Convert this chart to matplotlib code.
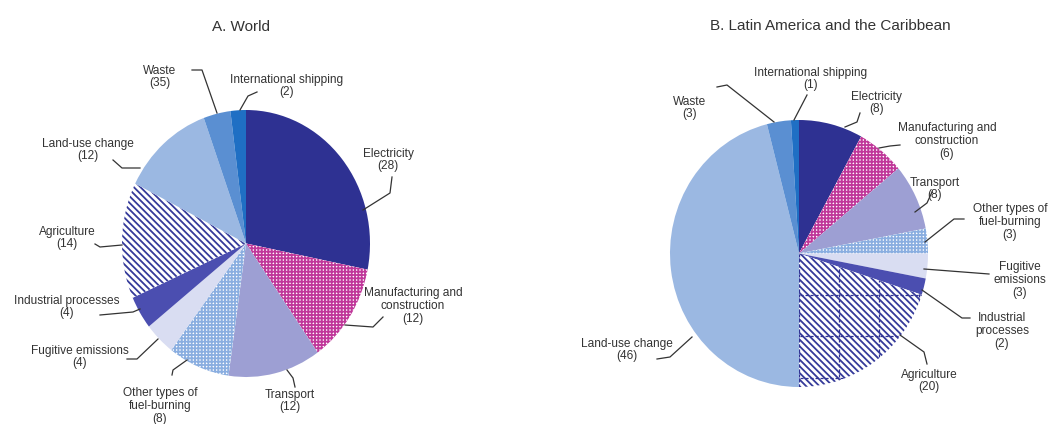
import numpy as np
import matplotlib.pyplot as plt

plt.rcParams['font.family'] = ['Liberation Sans', 'DejaVu Sans']
plt.rcParams['hatch.linewidth'] = 1.3

# sectors, listed clockwise from the top of each pie
sectors = ['Electricity', 'Manufacturing and\nconstruction', 'Transport',
           'Other types of\nfuel-burning', 'Fugitive emissions',
           'Industrial processes', 'Agriculture', 'Land-use change',
           'Waste', 'International shipping']

world_shares = [28, 12, 12, 8, 4, 4, 14, 12, 3.5, 2]
world_labels = ['28', '12', '12', '8', '4', '4', '14', '12', '35', '2']

lac_shares = [8, 6, 8, 3, 3, 2, 20, 46, 3, 1]
lac_labels = ['8', '6', '8', '3', '3', '2', '20', '46', '3', '1']

# label names used in panel B (line breaks differ)
lac_names = ['Electricity', 'Manufacturing and\nconstruction', 'Transport',
             'Other types of\nfuel-burning', 'Fugitive\nemissions',
             'Industrial\nprocesses', 'Agriculture', 'Land-use change',
             'Waste', 'International shipping']

# styles: facecolor, hatch colour, hatch
face = ['#2e3192', 'white', '#9d9fd3', 'white', '#d9ddf2',
        '#4b4eb0', 'white', '#9bb8e2', '#5a8fd2', '#1f6fc4']
hcol = ['#2e3192', '#c0389a', '#9d9fd3', '#8aaee0', '#d9ddf2',
        '#4b4eb0', '#353a9a', '#9bb8e2', '#5a8fd2', '#1f6fc4']
hatch = [None, '+' * 5, None, '+' * 5, None, None, '\\' * 5, None, None, None]

W, H = 1054, 424
fig = plt.figure(figsize=(W / 100, H / 100), dpi=100)


def pie_axes(cx, cy, rx, ry):
    ax = fig.add_axes([(cx - rx) / W, 1 - (cy + ry) / H, 2 * rx / W, 2 * ry / H])
    return ax


def draw_pie(ax, shares):
    wedges, _ = ax.pie(shares, startangle=90, counterclock=False,
                       colors=face, wedgeprops=dict(linewidth=0))
    for w, hc, h in zip(wedges, hcol, hatch):
        w.set_edgecolor(hc)
        w.set_linewidth(0)
        if h:
            w.set_hatch(h)
    ax.set_aspect('auto')
    ax.set_xlim(-1, 1)
    ax.set_ylim(-1, 1)
    ax.axis('off')
    return wedges


ax1 = pie_axes(246, 243.5, 124, 133.5)
draw_pie(ax1, world_shares)

ax2 = pie_axes(799, 253.5, 129, 133.5)
w2 = draw_pie(ax2, lac_shares)
# coarse dashed grid over the agriculture slice in panel B
for v in np.arange(0, 1.01, 0.31):
    l1 = ax2.axvline(v, color='#2e3192', lw=0.9, ls=(0, (2.5, 1.5)))
    l2 = ax2.axhline(-v, color='#2e3192', lw=0.9, ls=(0, (2.5, 1.5)))
    l1.set_clip_path(w2[6])
    l2.set_clip_path(w2[6])

# overlay in pixel units for titles, labels and leader lines
ov = fig.add_axes([0, 0, 1, 1])
ov.set_xlim(0, W)
ov.set_ylim(H, 0)
ov.axis('off')
ov.patch.set_alpha(0)

ov.text(241, 27, 'A. World', ha='center', va='center', fontsize=11, color='#333333')
ov.text(830, 26, 'B. Latin America and the Caribbean', ha='center', va='center',
        fontsize=11, color='#333333')

# label centres and leader lines (pixel layout)
world_pos = [(388, 160), (413, 306), (290, 401), (160, 406), (80, 357),
             (67, 307), (67, 238), (88, 150), (160, 77), (287, 86)]
world_lead = [
    [(392, 177), (390, 193), (363, 210)],
    [(383, 317), (373, 327), (345, 325)],
    [(295, 387), (293, 378), (287, 370)],
    [(172, 375), (173, 370), (187, 360)],
    [(127, 359), (137, 359), (158, 339)],
    [(100, 315), (133, 312), (140, 309)],
    [(95, 244), (100, 247), (122, 245)],
    [(113, 160), (122, 168), (140, 168)],
    [(192, 70), (202, 70), (217, 113)],
    [(257, 92), (248, 96), (240, 110)],
]

lac_pos = [(877, 103), (947, 141), (935, 189), (1010, 222), (1020, 280),
           (1002, 331), (929, 381), (627, 350), (690, 108), (811, 79)]
lac_lead = [
    [(860, 113), (857, 122), (845, 127)],
    [(900, 145), (890, 146), (879, 148)],
    [(932, 192), (927, 203), (915, 212)],
    [(964, 219), (954, 219), (925, 242)],
    [(989, 274), (924, 269)],
    [(970, 318), (962, 318), (922, 290)],
    [(927, 364), (924, 352), (900, 335)],
    [(657, 359), (670, 357), (692, 337)],
    [(717, 87), (727, 85), (774, 122)],
    [(807, 95), (794, 120)],
]

for names, vals, pos, lead in [(sectors, world_labels, world_pos, world_lead),
                               (lac_names, lac_labels, lac_pos, lac_lead)]:
    for name, v, (x, y), pts in zip(names, vals, pos, lead):
        ov.text(x, y, f'{name}\n({v})', ha='center', va='center',
                fontsize=8.6, color='#333333', linespacing=1.1)
        xs, ys = zip(*pts)
        ov.plot(xs, ys, color='#333333', lw=0.9)

fig.savefig('out.png', dpi=100)
